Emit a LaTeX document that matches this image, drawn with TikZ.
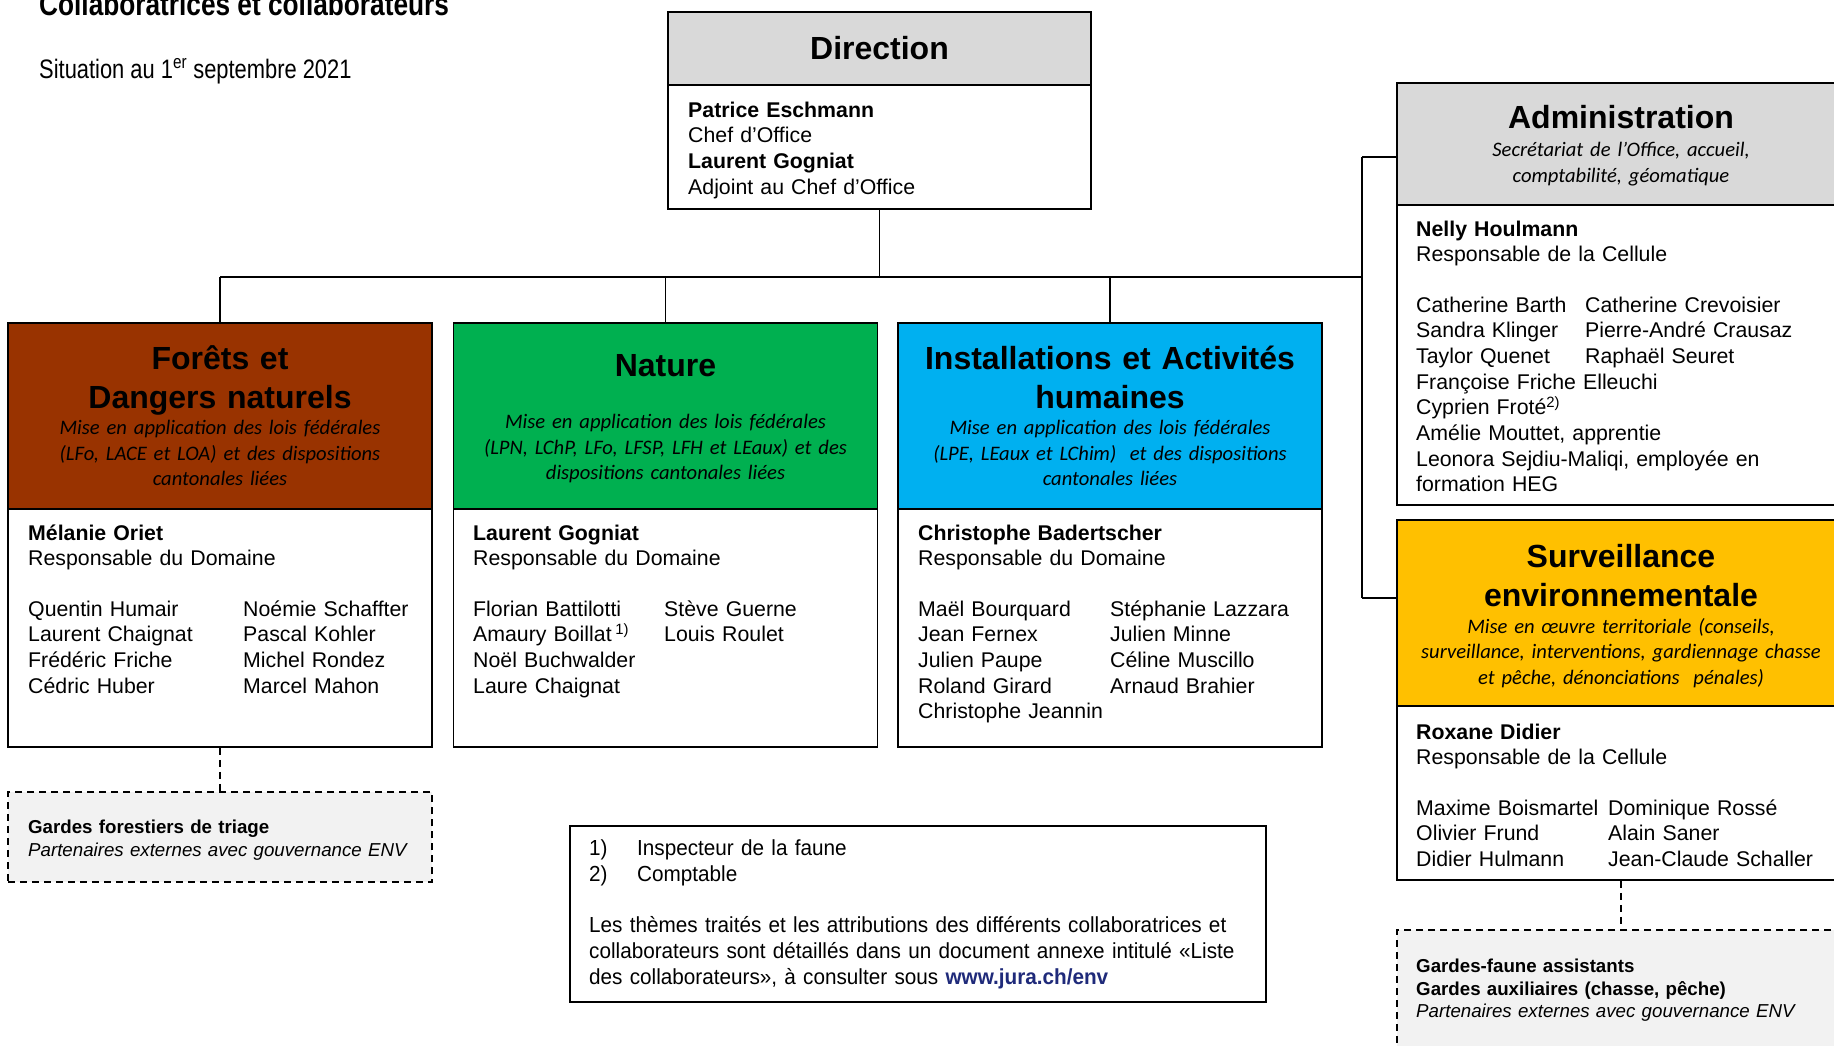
\documentclass[tikz,border=0pt]{standalone}
\usepackage{fontspec}
\setmainfont{Liberation Sans}
\newfontfamily\calibri{Carlito}
\newfontfamily\narrow[FakeStretch=0.82]{Liberation Sans}
\newfontfamily\notesans[FakeStretch=0.95]{Liberation Sans}
\usetikzlibrary{positioning}

\definecolor{foret}{HTML}{993300}
\definecolor{nature}{HTML}{00B050}
\definecolor{install}{HTML}{00B0F0}
\definecolor{surv}{HTML}{FFC000}
\definecolor{headgray}{HTML}{D9D9D9}
\definecolor{extfill}{HTML}{F2F2F2}
\definecolor{weblink}{HTML}{1F2A7A}

\newcommand\bodyfont{\fontsize{21.3}{25.7}\selectfont}
\newcommand\titlefont{\bfseries\fontsize{32}{38.6}\selectfont}
\newcommand\notefont{\calibri\itshape\fontsize{20.6}{25.7}\selectfont}
\newcommand\smallfont{\fontsize{18.7}{22.5}\selectfont}

\tikzset{
  box/.style={draw, line width=1.6pt, inner sep=0pt},
  headtitle/.style={anchor=base, inner sep=0pt, text width=440pt, align=center, font=\titlefont},
  headnote/.style={anchor=base, inner sep=0pt, text width=440pt, align=center, font=\notefont},
  names/.style={anchor=base west, inner sep=0pt, text width=400pt, align=left, font=\bodyfont},
  extern/.style={box, dash pattern=on 7pt off 5pt, fill=extfill},
  link/.style={line width=1.2pt},
}

\begin{document}
\begin{tikzpicture}[x=1pt,y=-1pt]
  \useasboundingbox[fill=white] (0,0) rectangle (1834,1045);

  % titre
  \node[anchor=base west, inner sep=0pt, font=\narrow\bfseries\fontsize{32}{38}\selectfont] (titre) at (39,15) {Collaboratrices et collaborateurs};
  \node[anchor=base west, inner sep=0pt, font=\narrow\fontsize{26.7}{32}\selectfont] (date) at (39,78) {Situation au 1\textsuperscript{er} septembre 2021};

  % direction
  \node[box, fill=headgray, minimum width=423pt, minimum height=73pt, font=\titlefont] (dirH) at (879.5,48.5) {Direction};
  \node[box, minimum width=423pt, minimum height=124pt] (dirB) at (879.5,147) {};
  \node[names] (dirT) at (688,117) {\textbf{Patrice Eschmann}\\Chef d’Office\\\textbf{Laurent Gogniat}\\Adjoint au Chef d’Office};

  % domaines
  \node[box, fill=foret, minimum width=424pt, minimum height=186pt] (foretH) at (220,416) {};
  \node[box, minimum width=424pt, minimum height=238pt] (foretB) at (220,628) {};
  \node[box, fill=nature, minimum width=424pt, minimum height=186pt] (natH) at (665.5,416) {};
  \node[box, minimum width=424pt, minimum height=238pt] (natB) at (665.5,628) {};
  \node[box, fill=install, minimum width=424pt, minimum height=186pt] (instH) at (1110,416) {};
  \node[box, minimum width=424pt, minimum height=238pt] (instB) at (1110,628) {};

  \node[headtitle] (foretHT) at (220,369.5) {Forêts et\\Dangers naturels};
  \node[headnote] (foretHI) at (220,434.3) {Mise en application des lois fédérales\\(LFo, LACE et LOA) et des dispositions\\cantonales liées};
  \node[headtitle] (natHT) at (665.5,376.5) {Nature};
  \node[headnote] (natHI) at (665.5,428.3) {Mise en application des lois fédérales\\(LPN, LChP, LFo, LFSP, LFH et LEaux) et des\\dispositions cantonales liées};
  \node[headtitle] (instHT) at (1110,369.5) {Installations et Activités\\humaines};
  \node[headnote] (instHI) at (1110,434.3) {Mise en application des lois fédérales\\(LPE, LEaux et LChim)~ et des dispositions\\cantonales liées};

  \node[names] (foretT) at (28,540) {\textbf{Mélanie Oriet}\\Responsable du Domaine\\[24.6pt]Quentin Humair\\Laurent Chaignat\\Frédéric Friche\\Cédric Huber};
  \node[names] (foretC) at (243,616) {Noémie Schaffter\\Pascal Kohler\\Michel Rondez\\Marcel Mahon};
  \node[names] (natT) at (473,540) {\textbf{Laurent Gogniat}\\Responsable du Domaine\\[24.6pt]Florian Battilotti\\Amaury Boillat\,\textsuperscript{1)}\\Noël Buchwalder\\Laure Chaignat};
  \node[names] (natC) at (664,616) {Stève Guerne\\Louis Roulet};
  \node[names] (instT) at (918,540) {\textbf{Christophe Badertscher}\\Responsable du Domaine\\[24.6pt]Maël Bourquard\\Jean Fernex\\Julien Paupe\\Roland Girard\\Christophe Jeannin};
  \node[names] (instC) at (1110,616) {Stéphanie Lazzara\\Julien Minne\\Céline Muscillo\\Arnaud Brahier};

  % cellules
  \node[box, fill=headgray, minimum width=448pt, minimum height=122pt] (admH) at (1621,144) {};
  \node[box, minimum width=448pt, minimum height=300pt] (admB) at (1621,355) {};
  \node[headtitle] (admHT) at (1621,128.5) {Administration};
  \node[headnote] (admHI) at (1621,156.3) {Secrétariat de l’Office, accueil,\\comptabilité, géomatique};
  \node[names] (admT) at (1416,236) {\textbf{Nelly Houlmann}\\Responsable de la Cellule\\[24.6pt]Catherine Barth\\Sandra Klinger\\Taylor Quenet\\Françoise Friche Elleuchi\\Cyprien Froté\textsuperscript{2)}\\Amélie Mouttet, apprentie\\Leonora Sejdiu-Maliqi, employée en\\formation HEG};
  \node[names] (admC) at (1585,312) {Catherine Crevoisier\\Pierre-André Crausaz\\Raphaël Seuret};

  \node[box, fill=surv, minimum width=448pt, minimum height=186pt] (survH) at (1621,613) {};
  \node[box, minimum width=448pt, minimum height=174pt] (survB) at (1621,793) {};
  \node[headtitle] (survHT) at (1621,567.5) {Surveillance\\environnementale};
  \node[headnote] (survHI) at (1621,633) {Mise en œuvre territoriale (conseils,\\surveillance, interventions, gardiennage chasse\\et pêche, dénonciations~ pénales)};
  \node[names] (survT) at (1416,739) {\textbf{Roxane Didier}\\Responsable de la Cellule\\[24.6pt]Maxime Boismartel\\Olivier Frund\\Didier Hulmann};
  \node[names] (survC) at (1608,815) {Dominique Rossé\\Alain Saner\\Jean-Claude Schaller};

  % partenaires externes
  \node[extern, minimum width=424pt, minimum height=90pt] (foretD) at (220,837) {};
  \node[names, font=\smallfont] (foretDT) at (28,833.5) {\textbf{Gardes forestiers de triage}\\\textit{Partenaires externes avec gouvernance ENV}};
  \node[extern, minimum width=448pt, minimum height=150pt] (survD) at (1621,1005) {};
  \node[names, font=\smallfont] (survDT) at (1416,972.5) {\textbf{Gardes-faune assistants}\\\textbf{Gardes auxiliaires (chasse, pêche)}\\\textit{Partenaires externes avec gouvernance ENV}};

  % remarques
  \node[box, line width=1.2pt, minimum width=696pt, minimum height=176pt] (note) at (918,914) {};
  \node[names, text width=680pt, font=\notesans\fontsize{21.8}{25.8}\selectfont] (noteT) at (589,855.5) {\makebox[48pt][l]{1)}Inspecteur de la faune\\\makebox[48pt][l]{2)}Comptable\\[25.8pt]Les thèmes traités et les attributions des différents collaboratrices et\\collaborateurs sont détaillés dans un document annexe intitulé «Liste\\des collaborateurs», à consulter sous \textcolor{weblink}{\textbf{www.jura.ch/env}}};

  % liaisons
  \coordinate (busL) at (220,277);
  \coordinate (busR) at (1362,277);
  \coordinate (admJ) at (1362,157);
  \coordinate (survJ) at (1362,598);
  \draw[link] (dirB.south) -- (dirB.south |- busL);
  \draw[link] (busL) -- (busR);
  \draw[link] (busL) -- (foretH.north);
  \draw[link] (natH.north |- busL) -- (natH.north);
  \draw[link] (instH.north |- busL) -- (instH.north);
  \draw[link] (admJ) -- (survJ);
  \draw[link] (admJ) -- (admJ -| admH.west);
  \draw[link] (survJ) -- (survJ -| survH.west);
  \draw[link, dash pattern=on 7pt off 5pt] (foretB.south) -- (foretD.north);
  \draw[link, dash pattern=on 7pt off 5pt] (survB.south) -- (survD.north);
\end{tikzpicture}
\end{document}
